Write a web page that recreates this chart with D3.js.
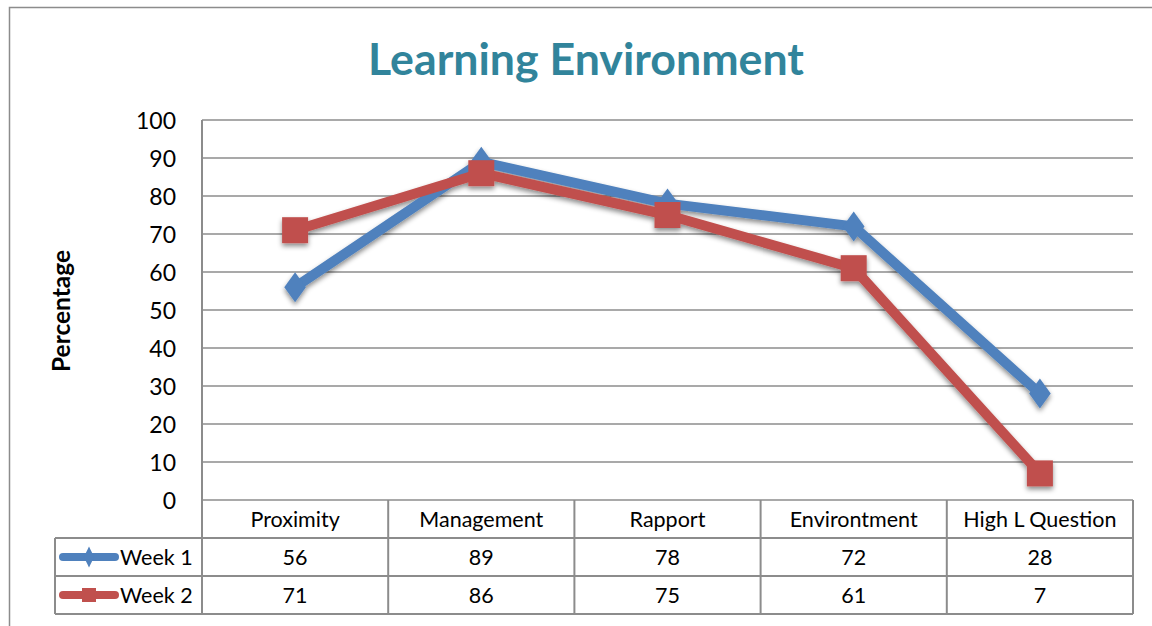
<!DOCTYPE html>
<html>
<head>
<meta charset="utf-8">
<script src="https://cdn.jsdelivr.net/npm/d3@7"></script>
<style>
  html, body { margin: 0; padding: 0; background: #fff; }
  svg { display: block; }
  text { font-family: "Lato", "Open Sans", sans-serif; }
</style>
</head>
<body>
<svg id="chart" width="1152" height="626"></svg>
<script>
const categories = ["Proximity", "Management", "Rapport", "Environtment", "High L Question"];
const week1 = [56, 89, 78, 72, 28];
const week2 = [71, 86, 75, 61, 7];
const seriesNames = ["Week 1", "Week 2"];
const yTicks = [0, 10, 20, 30, 40, 50, 60, 70, 80, 90, 100];
const titleText = "Learning Environment";
const yTitle = "Percentage";

const colors = ["#4F81BD", "#C0504D"];
const gridColor = "#8c8c8c";

const svg = d3.select("#chart");

const plot = { left: 202, right: 1133, top: 120, bottom: 500 };
const rowH = 38;
const tableLeft = 55;

const defs = svg.append("defs");
const f = defs.append("filter").attr("id", "shadow")
  .attr("x", "-20%").attr("y", "-20%").attr("width", "140%").attr("height", "160%");
f.append("feDropShadow").attr("dx", 0).attr("dy", 3).attr("stdDeviation", 2.5)
  .attr("flood-color", "#000").attr("flood-opacity", 0.45);

// outer border
svg.append("rect").attr("x", 9.5).attr("y", 7.5).attr("width", 1200).attr("height", 700)
  .attr("fill", "#fff").attr("stroke", "#8c8c8c").attr("stroke-width", 1.5);

const x = d3.scaleBand().domain(categories).range([plot.left, plot.right]).padding(0);
const y = d3.scaleLinear().domain([0, 100]).range([plot.bottom, plot.top]);

// gridlines
svg.append("g").selectAll("line").data(yTicks).join("line")
  .attr("x1", plot.left).attr("x2", plot.right)
  .attr("y1", d => y(d)).attr("y2", d => y(d))
  .attr("stroke", gridColor).attr("stroke-width", 1.5);

// y axis tick labels
const yAxis = d3.axisLeft(y).tickValues(yTicks).tickSize(0).tickPadding(0);
const gy = svg.append("g").attr("transform", `translate(176,0)`).call(yAxis);
gy.select(".domain").remove();
gy.selectAll("text").attr("font-size", 23).attr("fill", "#000")
  .attr("font-family", "Lato, 'Open Sans', sans-serif").attr("dy", "0.35em");

// y title
const yt = svg.append("text").attr("transform", `translate(70,${311}) rotate(-90)`)
  .attr("text-anchor", "middle").attr("font-size", 22).attr("font-weight", "bold")
  .text(yTitle);
yt.attr("font-size", 22 * 122 / yt.node().getComputedTextLength());

// title
const t = svg.append("text").attr("x", 586).attr("y", 75).attr("text-anchor", "middle")
  .attr("font-size", 44).attr("font-weight", "bold").attr("fill", "#31849B").text(titleText);
const tw = t.node().getComputedTextLength();
t.attr("font-size", 44 * 436 / tw);

// table
const tb = svg.append("g");
const rows = [plot.bottom, plot.bottom + rowH, plot.bottom + 2 * rowH, plot.bottom + 3 * rowH];
tb.append("line").attr("x1", plot.left).attr("x2", plot.left).attr("y1", plot.top).attr("y2", rows[3])
  .attr("stroke", gridColor).attr("stroke-width", 2);
tb.selectAll("line.h").data(rows.slice(1)).join("line").attr("class", "h")
  .attr("x1", tableLeft).attr("x2", plot.right).attr("y1", d => d).attr("y2", d => d)
  .attr("stroke", gridColor).attr("stroke-width", 2);
tb.append("line").attr("x1", tableLeft).attr("x2", tableLeft).attr("y1", rows[1]).attr("y2", rows[3])
  .attr("stroke", gridColor).attr("stroke-width", 2);
const bounds = categories.map(c => x(c) + x.bandwidth());
tb.selectAll("line.v").data(bounds).join("line").attr("class", "v")
  .attr("x1", d => d).attr("x2", d => d).attr("y1", rows[0]).attr("y2", rows[3])
  .attr("stroke", gridColor).attr("stroke-width", 2);

const fs = 21.5;
tb.selectAll("text.cat").data(categories).join("text").attr("class", "cat")
  .attr("x", d => x(d) + x.bandwidth() / 2).attr("y", rows[0] + rowH / 2)
  .attr("dy", "0.35em").attr("text-anchor", "middle").attr("font-size", fs).text(d => d);

const allSeries = [week1, week2];
allSeries.forEach((vals, si) => {
  const cy = rows[1 + si] + rowH / 2;
  tb.selectAll("text.val" + si).data(vals).join("text").attr("class", "val" + si)
    .attr("x", (d, i) => x(categories[i]) + x.bandwidth() / 2).attr("y", cy)
    .attr("dy", "0.35em").attr("text-anchor", "middle").attr("font-size", fs).text(d => d);
  tb.append("line").attr("x1", 63).attr("x2", 115).attr("y1", cy).attr("y2", cy)
    .attr("stroke", colors[si]).attr("stroke-width", 8).attr("stroke-linecap", "round");
  if (si === 0) {
    tb.append("path").attr("d", d3.symbol(d3.symbolDiamond, 90)())
      .attr("transform", `translate(89,${cy}) scale(1,1.2)`).attr("fill", colors[si]);
  } else {
    tb.append("rect").attr("x", 82).attr("y", cy - 7).attr("width", 14).attr("height", 14).attr("fill", colors[si]);
  }
  tb.append("text").attr("x", 120).attr("y", cy).attr("dy", "0.35em").attr("font-size", fs).text(seriesNames[si]);
});

// lines
const line = d3.line().x((d, i) => x(categories[i]) + x.bandwidth() / 2).y(d => y(d));
const lg = svg.append("g").attr("filter", "url(#shadow)");
allSeries.forEach((vals, si) => {
  lg.append("path").datum(vals).attr("d", line).attr("fill", "none")
    .attr("stroke", colors[si]).attr("stroke-width", 10).attr("stroke-linejoin", "round");
  if (si === 0) {
    lg.selectAll("path.m0").data(vals).join("path").attr("class", "m0")
      .attr("d", d3.symbol(d3.symbolDiamond, 260)())
      .attr("transform", (d, i) => `translate(${x(categories[i]) + x.bandwidth() / 2},${y(d)}) scale(1.25,1)`)
      .attr("fill", colors[si]);
  } else {
    lg.selectAll("rect.m1").data(vals).join("rect").attr("class", "m1")
      .attr("x", (d, i) => x(categories[i]) + x.bandwidth() / 2 - 13)
      .attr("y", d => y(d) - 13).attr("width", 26).attr("height", 26)
      .attr("fill", colors[si]);
  }
});
</script>
</body>
</html>
